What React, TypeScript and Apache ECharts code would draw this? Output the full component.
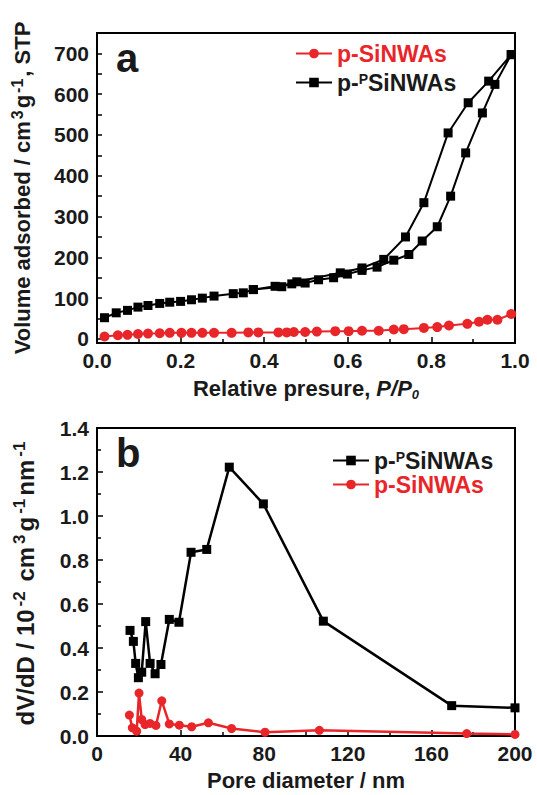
import React, { useEffect, useRef } from 'react';
import * as echarts from 'echarts';

// ---- Panel a: N2 isotherms ----
const adsPressureBlack = [0.018, 0.046, 0.073, 0.098, 0.122, 0.150, 0.174, 0.200, 0.226, 0.252, 0.280, 0.326, 0.350, 0.374, 0.426, 0.466, 0.498, 0.530, 0.566, 0.599, 0.634, 0.670, 0.710, 0.746, 0.778, 0.814, 0.846, 0.882, 0.922, 0.952, 0.991];
const adsVolumeBlack = [52, 64, 70, 78, 82, 87, 90, 92, 96, 100, 105, 111, 113, 121, 129, 135, 137, 145, 150, 159, 168, 176, 193, 207, 240, 275, 350, 456, 554, 624, 697];
const desPressureBlack = [0.991, 0.937, 0.888, 0.840, 0.782, 0.738, 0.686, 0.634, 0.582, 0.478, 0.442, 0.374];
const desVolumeBlack = [697, 632, 579, 505, 334, 250, 195, 174, 162, 140, 128, 121];

const pressureRed = [0.018, 0.050, 0.073, 0.098, 0.122, 0.150, 0.174, 0.202, 0.226, 0.252, 0.280, 0.322, 0.362, 0.386, 0.434, 0.454, 0.471, 0.498, 0.526, 0.570, 0.602, 0.634, 0.674, 0.710, 0.734, 0.782, 0.814, 0.842, 0.886, 0.914, 0.934, 0.958, 0.991];
const volumeRed = [6, 9, 10, 12, 13, 14, 15, 15, 15, 15, 15, 15, 16, 16, 16, 16, 17, 17, 18, 19, 19, 20, 20, 23, 24, 27, 29, 33, 37, 42, 47, 47, 61];

const yTicksA = [0, 50, 100, 150, 200, 250, 300, 350, 400, 450, 500, 550, 600, 650, 700];
const yLabelsA = [0, 100, 200, 300, 400, 500, 600, 700];

// ---- Panel b: pore size distribution ----
const diameterBlack = [15.8, 17.4, 18.5, 19.8, 21.4, 23.3, 25.4, 27.8, 30.6, 34.6, 39.2, 45.0, 52.5, 63.3, 79.6, 108.3, 169.7, 200];
const dvdBlack = [0.48, 0.43, 0.33, 0.265, 0.29, 0.52, 0.33, 0.283, 0.325, 0.53, 0.517, 0.835, 0.848, 1.222, 1.055, 0.522, 0.138, 0.128];
const diameterRed = [15.5, 16.9, 19.0, 20.1, 21.4, 23.0, 25.4, 28.2, 31.0, 34.6, 39.4, 45.3, 53.3, 64.4, 80.4, 106.4, 176.9, 200];
const dvdRed = [0.095, 0.037, 0.022, 0.195, 0.075, 0.052, 0.057, 0.048, 0.16, 0.055, 0.049, 0.042, 0.06, 0.034, 0.017, 0.026, 0.011, 0.007];

const NAME_RED = 'p-SiNWAs';
const NAME_BLACK = 'p-PSiNWAs';

const FONT = "'Liberation Sans', Arial, Helvetica, sans-serif";
const RED = '#e8262a';
const TXT = '#1a1a1a';

const zip = (xs: number[], ys: number[]) => xs.map((x, i) => [x, ys[i]]);

const legendFormatter = (name: string) =>
  name === NAME_BLACK ? '{m|p-}{s|P}{m|SiNWAs}' : '{m|' + name + '}';

const legendRich = {
  m: { fontSize: 23, fontWeight: 'bold', fontFamily: FONT, lineHeight: 22 },
  s: { fontSize: 14, fontWeight: 'bold', fontFamily: FONT, lineHeight: 11, verticalAlign: 'top' },
};

function makeLegend(name: string, left: number, top: number) {
  return {
    left,
    top,
    orient: 'vertical',
    padding: 0,
    itemWidth: 36,
    itemHeight: 12,
    data: [name === NAME_RED ? { name, textStyle: { color: RED } } : { name, textStyle: { color: TXT } }],
    formatter: legendFormatter,
    textStyle: { fontFamily: FONT, fontWeight: 'bold', fontSize: 23, rich: legendRich },
    selectedMode: false,
  };
}

const axisLine = { show: true, onZero: false, lineStyle: { color: '#000', width: 2 } };
const tickStyle = { color: '#000', width: 1.5 };
const labelBase = { color: TXT, fontFamily: FONT, fontWeight: 'bold', fontSize: 21 };

const makeRich = (main: number, sup: number, pad: number) => ({
  n: { fontSize: main, fontWeight: 'bold', fontFamily: FONT, color: TXT, lineHeight: main + 4 },
  i: { fontSize: main, fontWeight: 'bold', fontStyle: 'italic', fontFamily: FONT, color: TXT, lineHeight: main + 4 },
  s: { fontSize: 13, fontWeight: 'bold', fontStyle: 'italic', fontFamily: FONT, color: TXT, lineHeight: 12, verticalAlign: 'bottom' },
  p: { fontSize: sup, fontWeight: 'bold', fontFamily: FONT, color: TXT, lineHeight: sup, verticalAlign: 'top', padding: [0, pad, 0, pad] },
});

export default function App() {
  const ref = useRef<HTMLDivElement>(null);
  useEffect(() => {
    if (!ref.current) return;
    const chart = echarts.init(ref.current, undefined, { renderer: 'svg' });
    chart.setOption({
      animation: false,
      backgroundColor: '#fff',
      grid: [
        { left: 97, top: 33, width: 418, height: 310, show: true, borderColor: '#000', borderWidth: 2, backgroundColor: 'transparent' },
        { left: 97, top: 428, width: 418, height: 308, show: true, borderColor: '#000', borderWidth: 2, backgroundColor: 'transparent' },
      ],
      legend: [
        makeLegend(NAME_RED, 295, 42),
        makeLegend(NAME_BLACK, 295, 71),
        makeLegend(NAME_BLACK, 332, 449),
        makeLegend(NAME_RED, 332, 473),
      ],
      xAxis: [
        {
          type: 'value', gridIndex: 0, min: 0, max: 1, interval: 0.2,
          axisLine, splitLine: { show: false },
          axisTick: { inside: true, length: 6, lineStyle: tickStyle },
          minorTick: { show: true, splitNumber: 2, length: 4, lineStyle: tickStyle },
          axisLabel: { ...labelBase, margin: 7, formatter: (v: number) => v.toFixed(1) },
          name: '{n|Relative presure, }{i|P/P}{s|0}',
          nameLocation: 'middle', nameGap: 32,
          nameTextStyle: { rich: makeRich(22, 15, 1), fontFamily: FONT },
        },
        {
          type: 'value', gridIndex: 1, min: 0, max: 200, interval: 40,
          axisLine, splitLine: { show: false },
          axisTick: { inside: true, length: 6, lineStyle: tickStyle },
          minorTick: { show: true, splitNumber: 2, length: 4, lineStyle: tickStyle },
          axisLabel: { ...labelBase, margin: 7 },
          name: '{n|Pore diameter / nm}',
          nameLocation: 'middle', nameGap: 31,
          nameTextStyle: { rich: makeRich(22, 15, 1), fontFamily: FONT },
        },
      ],
      yAxis: [
        {
          type: 'value', gridIndex: 0, min: -10, max: 750,
          axisLine, splitLine: { show: false },
          axisTick: { inside: true, length: 5, lineStyle: tickStyle, customValues: yTicksA },
          axisLabel: { ...labelBase, margin: 8, customValues: yLabelsA },
          name: '{n|Volume adsorbed / cm}{p|3}{n|g}{p|-1}{n|, STP}',
          nameLocation: 'middle', nameGap: 62, nameRotate: 90,
          nameTextStyle: { rich: makeRich(22, 16, 2), fontFamily: FONT },
        },
        {
          type: 'value', gridIndex: 1, min: 0, max: 1.4, interval: 0.2,
          axisLine, splitLine: { show: false },
          axisTick: { inside: true, length: 6, lineStyle: tickStyle },
          minorTick: { show: true, splitNumber: 2, length: 4, lineStyle: tickStyle },
          axisLabel: { ...labelBase, margin: 8, formatter: (v: number) => v.toFixed(1) },
          name: '{n|dV/dD / 10}{p|-2}{n| cm}{p|3}{n|g}{p|-1}{n|nm}{p|-1}',
          nameLocation: 'middle', nameGap: 58, nameRotate: 90,
          nameTextStyle: { rich: makeRich(24, 17, 3), fontFamily: FONT },
        },
      ],
      graphic: [
        { type: 'text', left: 116, top: 38, style: { text: 'a', fontSize: 40, fontWeight: 'bold', fontFamily: FONT, fill: TXT } },
        { type: 'text', left: 116, top: 433, style: { text: 'b', fontSize: 40, fontWeight: 'bold', fontFamily: FONT, fill: TXT } },
      ],
      series: [
        {
          name: NAME_RED, type: 'line', xAxisIndex: 0, yAxisIndex: 0,
          data: zip(pressureRed, volumeRed),
          symbol: 'circle', symbolSize: 10, color: RED,
          lineStyle: { color: RED, width: 2 }, itemStyle: { color: RED },
        },
        {
          name: NAME_BLACK, type: 'line', xAxisIndex: 0, yAxisIndex: 0,
          data: [...zip(adsPressureBlack, adsVolumeBlack), ...zip(desPressureBlack, desVolumeBlack)],
          symbol: 'rect', symbolSize: 9, color: '#000',
          lineStyle: { color: '#000', width: 2 }, itemStyle: { color: '#000' },
        },
        {
          name: NAME_BLACK, type: 'line', xAxisIndex: 1, yAxisIndex: 1,
          data: zip(diameterBlack, dvdBlack),
          symbol: 'rect', symbolSize: 9, color: '#000',
          lineStyle: { color: '#000', width: 2.5 }, itemStyle: { color: '#000' },
        },
        {
          name: NAME_RED, type: 'line', xAxisIndex: 1, yAxisIndex: 1,
          data: zip(diameterRed, dvdRed),
          symbol: 'circle', symbolSize: 9, color: RED,
          lineStyle: { color: RED, width: 2.5 }, itemStyle: { color: RED },
        },
      ],
    });
    return () => chart.dispose();
  }, []);
  return <div ref={ref} style={{ position: 'fixed', left: 0, top: 0, width: 537, height: 795 }} />;
}
